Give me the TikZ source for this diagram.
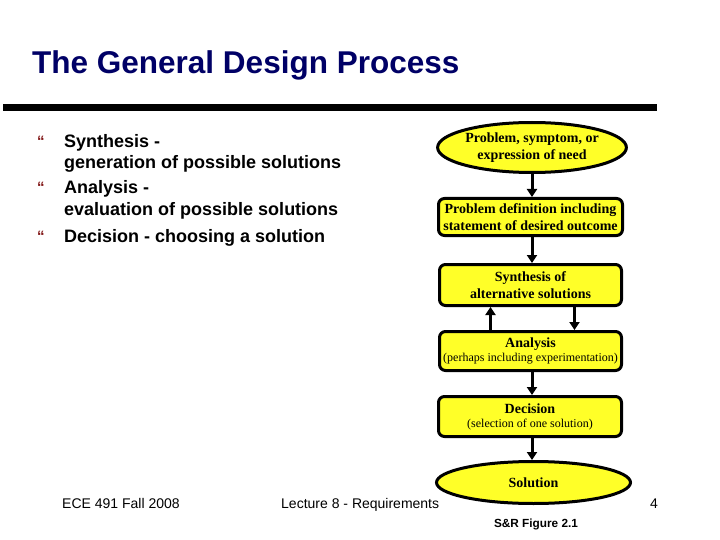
\documentclass[tikz,border=0pt]{standalone}
\usepackage{fontspec}
\setmainfont{Liberation Serif}
\newfontfamily\arialf{Liberation Sans}
\usetikzlibrary{shapes.geometric,arrows.meta}
\definecolor{boxyellow}{RGB}{255,255,40}
\definecolor{bulletred}{RGB}{128,20,20}
\definecolor{titlenavy}{RGB}{0,0,102}
\tikzset{
  flowbox/.style={draw=black, line width=3pt, rounded corners=6pt, fill=boxyellow, inner sep=0pt, align=center},
  flowell/.style={draw=black, line width=3pt, ellipse, fill=boxyellow, inner sep=0pt, align=center},
  arr/.style={line width=3pt, -{Triangle[width=10pt,length=8pt]}},
  bul/.style={anchor=base west, inner sep=0pt, font=\arialf\bfseries\fontsize{18}{21}\selectfont},
  bmark/.style={anchor=base west, inner sep=0pt, text=bulletred, font=\arialf\bfseries\fontsize{15}{16}\selectfont},
  foot/.style={anchor=base west, inner sep=0pt, font=\arialf\fontsize{14}{16}\selectfont},
  bigt/.style={font=\bfseries\fontsize{14}{17}\selectfont},
}
\begin{document}
\begin{tikzpicture}[x=1pt,y=-1pt]
\useasboundingbox[fill=white] (0,0) rectangle (720,540);
% title
\node[anchor=base west, inner sep=0pt, text=titlenavy, font=\arialf\bfseries\fontsize{31.5}{36}\selectfont] (title) at (32,74) {The General Design Process};
\fill[black] (3,104) rectangle (657,111);
% bullets
\node[bmark] (m1) at (37,147) {“};
\node[bmark] (m2) at (37,193) {“};
\node[bmark] (m3) at (37,241) {“};
\node[bul] (b1a) at (64,148) {Synthesis -};
\node[bul] (b1b) at (64,169) {generation of possible solutions};
\node[bul] (b2a) at (64,194) {Analysis -};
\node[bul] (b2b) at (64,215) {evaluation of possible solutions};
\node[bul] (b3a) at (64,242) {Decision - choosing a solution};
% flowchart
\node[flowell, bigt, minimum width=187pt, minimum height=50pt] (e1) at (532,147.5) {Problem, symptom, or\\expression of need};
\node[flowbox, bigt, minimum width=184pt, minimum height=37pt] (b2) at (530.5,217) {Problem definition including\\statement of desired outcome};
\node[flowbox, bigt, minimum width=182pt, minimum height=41pt] (b3) at (530.5,285) {Synthesis of\\alternative solutions};
\node[flowbox, minimum width=182pt, minimum height=39pt] (b4) at (530.5,351) {{\bfseries\fontsize{14}{15}\selectfont Analysis}\\[2pt]{\fontsize{12}{15}\selectfont (perhaps including experimentation)}};
\node[flowbox, minimum width=183pt, minimum height=40pt] (b5) at (530,416.5) {{\bfseries\fontsize{14}{15}\selectfont Decision}\\[2pt]{\fontsize{12}{15}\selectfont (selection of one solution)}};
\node[flowell, bigt, minimum width=194pt, minimum height=42pt] (e2) at (533.5,482.5) {Solution};
\draw[arr] (e1.south) -- (b2.north -| e1.south);
\draw[arr] (b2.south -| e1.south) -- (b3.north -| e1.south);
\draw[arr] ([xshift=-40pt]b4.north) -- ([xshift=-40pt]b3.south);
\draw[arr] ([xshift=44pt]b3.south) -- ([xshift=44pt]b4.north);
\draw[arr] (b4.south -| e1.south) -- (b5.north -| e1.south);
\draw[arr] (b5.south -| e1.south) -- (e2.north -| e1.south);
% footer
\node[foot] (f1) at (62,508) {ECE 491 Fall 2008};
\node[foot] (f2) at (281,508) {Lecture 8 - Requirements};
\node[foot] (f3) at (650,508) {4};
\node[anchor=base, inner sep=0pt, font=\arialf\bfseries\fontsize{11.8}{14}\selectfont] (fig) at (536,527) {S\&R Figure 2.1};
\end{tikzpicture}
\end{document}
